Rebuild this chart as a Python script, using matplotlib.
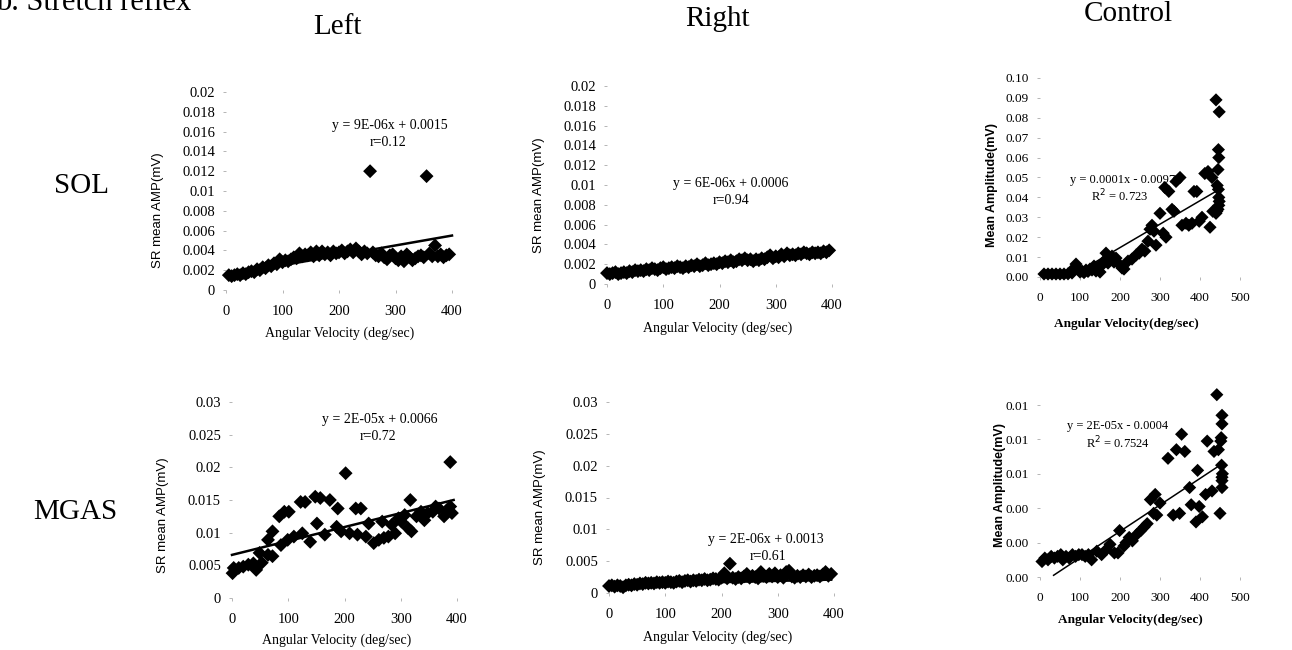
import matplotlib
matplotlib.use("Agg")
import matplotlib.pyplot as plt

# ---------------- data ----------------
left_sol_x = [5, 10, 15, 20, 25, 30, 35, 40, 45, 50, 55, 60, 65, 70, 75, 80, 85, 90, 95, 100,
              105, 110, 115, 120, 125, 130, 135, 140, 145, 150, 155, 160, 165, 170, 175, 180, 185, 190, 195, 200,
              205, 210, 215, 220, 225, 230, 235, 240, 245, 250, 255, 260, 265, 270, 275, 280, 285, 290, 295, 300,
              305, 310, 315, 320, 325, 330, 335, 340, 345, 350, 355, 360, 365, 370, 375, 380, 385, 390, 395]
left_sol_y = [0.0015, 0.0014, 0.0015, 0.0016, 0.0015, 0.0017, 0.0016, 0.0018, 0.0019, 0.0018,
              0.0021, 0.0020, 0.0023, 0.0022, 0.0025, 0.0024, 0.0027, 0.0026, 0.0031, 0.0028,
              0.0030, 0.0029, 0.0031, 0.0033, 0.0032, 0.0037, 0.0034, 0.0036, 0.0035, 0.0038,
              0.0034, 0.0039, 0.0035, 0.0039, 0.0036, 0.0038, 0.0035, 0.0039, 0.0037, 0.0038,
              0.0040, 0.0037, 0.0039, 0.0041, 0.0038, 0.0042, 0.0039, 0.0036, 0.0039, 0.0037,
              0.0120, 0.0038, 0.0035, 0.0034, 0.0037, 0.0033, 0.0031, 0.0035, 0.0036, 0.0032,
              0.0030, 0.0034, 0.0029, 0.0036, 0.0033, 0.0030, 0.0032, 0.0034, 0.0035, 0.0033,
              0.0115, 0.0037, 0.0034, 0.0045, 0.0034, 0.0036, 0.0033, 0.0035, 0.0036]
left_sol_fit_x = [0, 400]
left_sol_fit_y = [0.0015, 0.0055]

right_sol_x = [0, 5, 10, 15, 20, 25, 30, 35, 40, 45, 50, 55, 60, 65, 70, 75, 80, 85, 90, 95,
               100, 105, 110, 115, 120, 125, 130, 135, 140, 145, 150, 155, 160, 165, 170, 175, 180, 185, 190, 195,
               200, 205, 210, 215, 220, 225, 230, 235, 240, 245, 250, 255, 260, 265, 270, 275, 280, 285, 290, 295,
               300, 305, 310, 315, 320, 325, 330, 335, 340, 345, 350, 355, 360, 365, 370, 375, 380, 385, 390, 395]
right_sol_y = [0.0011, 0.0010, 0.0011, 0.0012, 0.0010, 0.0011, 0.0012, 0.0011, 0.0013, 0.0012,
               0.0014, 0.0013, 0.0014, 0.0013, 0.0015, 0.0014, 0.0016, 0.0015, 0.0014, 0.0016,
               0.0017, 0.0015, 0.0016, 0.0017, 0.0016, 0.0018, 0.0017, 0.0016, 0.0018, 0.0017,
               0.0019, 0.0018, 0.0020, 0.0018, 0.0019, 0.0021, 0.0019, 0.0020, 0.0021, 0.0020,
               0.0022, 0.0021, 0.0023, 0.0022, 0.0024, 0.0022, 0.0023, 0.0025, 0.0024, 0.0026,
               0.0024, 0.0025, 0.0023, 0.0025, 0.0024, 0.0026, 0.0025, 0.0027, 0.0029, 0.0026,
               0.0028, 0.0027, 0.0030, 0.0028, 0.0031, 0.0029, 0.0030, 0.0029, 0.0031, 0.0030,
               0.0032, 0.0031, 0.0030, 0.0032, 0.0031, 0.0032, 0.0031, 0.0033, 0.0032, 0.0034]
right_sol_fit_x = [0, 395]
right_sol_fit_y = [0.0009, 0.0033]

control_sol_x = [10, 20, 30, 40, 50, 60, 70, 80, 85, 90, 95, 100, 105, 110, 115, 120, 125, 130, 135, 140,
                 145, 150, 155, 160, 165, 170, 175, 180, 185, 190, 200, 205, 210, 220, 230, 240, 248, 255, 262, 270,
                 275, 280, 285, 290, 300, 308, 315, 312, 322, 330, 335, 340, 350, 355, 365, 372, 380, 385, 392, 398,
                 405, 412, 420, 425, 430, 432, 440, 448, 446, 447, 445, 443, 446, 447, 448, 447, 445, 442, 440]
control_sol_y = [0.0015, 0.0015, 0.0015, 0.0015, 0.0015, 0.0015, 0.0016, 0.0020, 0.0045, 0.0065,
                 0.0040, 0.0025, 0.0030, 0.0022, 0.0035, 0.0028, 0.0040, 0.0035, 0.0055, 0.0030,
                 0.0050, 0.0025, 0.0060, 0.0080, 0.0120, 0.0070, 0.0090, 0.0105, 0.0075, 0.0095,
                 0.0060, 0.0045, 0.0040, 0.0080, 0.0090, 0.0110, 0.0120, 0.0140, 0.0130, 0.0180,
                 0.0240, 0.0260, 0.0230, 0.0160, 0.0320, 0.0220, 0.0200, 0.0450, 0.0430, 0.0340,
                 0.0330, 0.0480, 0.0500, 0.0260, 0.0270, 0.0260, 0.0270, 0.0430, 0.0430, 0.0280,
                 0.0300, 0.0520, 0.0530, 0.0250, 0.0500, 0.0330, 0.0890, 0.0830, 0.0640, 0.0600,
                 0.0540, 0.0460, 0.0440, 0.0400, 0.0380, 0.0360, 0.0340, 0.0330, 0.0320]
control_sol_fit_x = [100, 448]
control_sol_fit_y = [0.0030, 0.0440]

left_mgas_x = [1, 3, 12, 20, 29, 38, 43, 49, 53, 64, 72, 64, 72, 84, 93, 101, 87, 99, 110, 122,
               130, 125, 139, 148, 157, 151, 165, 174, 188, 186, 194, 202, 209, 220, 229, 223, 238, 243, 252, 261,
               267, 270, 278, 284, 290, 296, 301, 307, 313, 319, 317, 328, 336, 342, 348, 357, 362, 368, 377, 383,
               388, 388, 391]
left_mgas_y = [0.0038, 0.0046, 0.0046, 0.0048, 0.0051, 0.0053, 0.0043, 0.0069, 0.0054, 0.0066,
               0.0064, 0.0089, 0.0102, 0.0125, 0.0132, 0.0132, 0.0081, 0.0089, 0.0094, 0.0147,
               0.0147, 0.0099, 0.0086, 0.0155, 0.0153, 0.0114, 0.0097, 0.0150, 0.0137, 0.0109,
               0.0102, 0.0191, 0.0099, 0.0137, 0.0137, 0.0097, 0.0094, 0.0114, 0.0084, 0.0089,
               0.0117, 0.0092, 0.0094, 0.0112, 0.0099, 0.0122, 0.0117, 0.0127, 0.0107, 0.0102,
               0.0150, 0.0125, 0.0132, 0.0119, 0.0130, 0.0132, 0.0140, 0.0137, 0.0125, 0.0132,
               0.0208, 0.0140, 0.0130]
left_mgas_fit_x = [0, 394]
left_mgas_fit_y = [0.0066, 0.0150]

right_mgas_x = [0, 5, 10, 15, 20, 25, 30, 35, 40, 45, 50, 55, 60, 65, 70, 75, 80, 85, 90, 95,
                100, 105, 110, 115, 120, 125, 130, 135, 140, 145, 150, 155, 160, 165, 170, 175, 180, 185, 190, 195,
                200, 205, 210, 215, 220, 225, 230, 235, 240, 245, 250, 255, 260, 265, 270, 275, 280, 285, 290, 295,
                300, 305, 310, 315, 320, 325, 330, 335, 340, 345, 350, 355, 360, 365, 370, 375, 380, 385, 390, 395]
right_mgas_y = [0.0011, 0.0012, 0.0010, 0.0012, 0.0011, 0.0009, 0.0012, 0.0013, 0.0012, 0.0014,
                0.0013, 0.0015, 0.0014, 0.0016, 0.0015, 0.0016, 0.0015, 0.0017, 0.0016, 0.0017,
                0.0016, 0.0018, 0.0017, 0.0016, 0.0018, 0.0019, 0.0017, 0.0019, 0.0020, 0.0018,
                0.0020, 0.0019, 0.0021, 0.0020, 0.0022, 0.0020, 0.0021, 0.0023, 0.0022, 0.0021,
                0.0024, 0.0031, 0.0023, 0.0046, 0.0024, 0.0022, 0.0025, 0.0023, 0.0026, 0.0030,
                0.0024, 0.0027, 0.0025, 0.0023, 0.0033, 0.0027, 0.0025, 0.0030, 0.0026, 0.0031,
                0.0025, 0.0028, 0.0024, 0.0033, 0.0035, 0.0026, 0.0024, 0.0027, 0.0025, 0.0028,
                0.0026, 0.0029, 0.0025, 0.0027, 0.0028, 0.0026, 0.0029, 0.0033, 0.0027, 0.0030]
right_mgas_fit_x = [0, 395]
right_mgas_fit_y = [0.0013, 0.0021]

control_mgas_x = [5, 12, 20, 28, 36, 44, 52, 57, 65, 73, 81, 89, 97, 105, 113, 121, 129, 142, 154, 166,
                  175, 186, 195, 199, 210, 215, 223, 231, 243, 252, 260, 268, 276, 288, 284, 292, 300, 320, 333, 341,
                  349, 354, 362, 374, 378, 390, 394, 398, 406, 414, 418, 430, 435, 442, 446, 450, 452, 453, 454, 455,
                  455, 455, 455, 455, 456]
control_mgas_y = [0.0009, 0.0011, 0.0010, 0.0012, 0.0011, 0.0012, 0.0013, 0.0010, 0.0012, 0.0011,
                  0.0013, 0.0012, 0.0013, 0.0013, 0.0012, 0.0013, 0.0010, 0.0015, 0.0013, 0.0016,
                  0.0019, 0.0014, 0.0014, 0.0027, 0.0018, 0.0020, 0.0023, 0.0021, 0.0025, 0.0027,
                  0.0029, 0.0031, 0.0045, 0.0048, 0.0037, 0.0036, 0.0043, 0.0069, 0.0036, 0.0074,
                  0.0037, 0.0083, 0.0073, 0.0052, 0.0042, 0.0032, 0.0062, 0.0041, 0.0035, 0.0048,
                  0.0079, 0.0050, 0.0073, 0.0106, 0.0074, 0.0037, 0.0079, 0.0081, 0.0065, 0.0094,
                  0.0089, 0.0056, 0.0052, 0.0058, 0.0060]
control_mgas_fit_x = [34, 450]
control_mgas_fit_y = [0.0001, 0.0065]

lr_xticks = [0, 100, 200, 300, 400]
ctrl_xticks = [0, 100, 200, 300, 400, 500]
sol_lr_yticks = [0, 0.002, 0.004, 0.006, 0.008, 0.01, 0.012, 0.014, 0.016, 0.018, 0.02]
sol_lr_ylabels = ["0", "0.002", "0.004", "0.006", "0.008", "0.01", "0.012", "0.014", "0.016", "0.018", "0.02"]
mgas_lr_yticks = [0, 0.005, 0.01, 0.015, 0.02, 0.025, 0.03]
mgas_lr_ylabels = ["0", "0.005", "0.01", "0.015", "0.02", "0.025", "0.03"]
sol_ctrl_yticks = [0, 0.01, 0.02, 0.03, 0.04, 0.05, 0.06, 0.07, 0.08, 0.09, 0.10]
sol_ctrl_ylabels = ["0.00", "0.01", "0.02", "0.03", "0.04", "0.05", "0.06", "0.07", "0.08", "0.09", "0.10"]
mgas_ctrl_yticks = [0, 0.002, 0.004, 0.006, 0.008, 0.010]
mgas_ctrl_ylabels = ["0.00", "0.00", "0.00", "0.01", "0.01", "0.01"]

# ---------------- figure ----------------
W, H = 1292, 650
fig = plt.figure(figsize=(W / 100, H / 100), dpi=100)
SERIF = ["Liberation Serif", "DejaVu Serif"]
SANS = ["Liberation Sans", "DejaVu Sans"]


def ftxt(x, y, s, size, family=SERIF, weight="normal", ha="center", va="center", rot=0):
    fig.text(x / W, 1 - y / H, s, fontsize=size, family=family, weight=weight,
             ha=ha, va=va, rotation=rot, color="black")


def panel(box, xlim, ylim, xs, ys, fx, fy, xt, yt, ytl, lw, ms, tsize):
    x0, x1, yt_px, yb_px = box
    ax = fig.add_axes([x0 / W, 1 - yb_px / H, (x1 - x0) / W, (yb_px - yt_px) / H])
    ax.set_xlim(*xlim)
    ax.set_ylim(*ylim)
    for s in ax.spines.values():
        s.set_visible(False)
    ax.set_xticks(xt)
    ax.set_xticklabels([str(v) for v in xt], family=SERIF, fontsize=tsize)
    ax.set_yticks(yt)
    ax.set_yticklabels(ytl, family=SERIF, fontsize=tsize)
    ax.tick_params(axis="both", direction="out", length=2, width=0.6, color="#aaaaaa")
    ax.tick_params(axis="y", pad=6)
    ax.tick_params(axis="x", pad=9)
    ax.patch.set_alpha(0)
    ax.plot(fx, fy, color="black", lw=lw, clip_on=False, zorder=2)
    ax.scatter(xs, ys, marker="D", s=ms, color="black", edgecolors="none", clip_on=False, zorder=3)
    return ax


# Row titles / column titles
ftxt(-4, 2, "b. Stretch reflex", 22, ha="left")
ftxt(337, 27, "Left", 21)
ftxt(717, 19, "Right", 21)
ftxt(1128, 14, "Control", 21)
ftxt(82, 186, "SOL", 21)
ftxt(75, 512, "MGAS", 21)

# Left SOL
panel((226, 452, 92, 290), (0, 400), (0, 0.02), left_sol_x, left_sol_y,
      left_sol_fit_x, left_sol_fit_y, lr_xticks, sol_lr_yticks, sol_lr_ylabels, 1.8, 50, 10.5)
ftxt(390, 125, "y = 9E-06x + 0.0015", 10)
ftxt(388, 142, "r=0.12", 10)
ftxt(158, 210, "SR mean AMP(mV)", 9.5, family=SANS, rot=90)
ftxt(340, 333, "Angular Velocity (deg/sec)", 10)

# Right SOL
panel((607, 832, 86, 284), (0, 400), (0, 0.02), right_sol_x, right_sol_y,
      right_sol_fit_x, right_sol_fit_y, lr_xticks, sol_lr_yticks, sol_lr_ylabels, 1.8, 50, 10.5)
ftxt(731, 184, "y = 6E-06x + 0.0006", 10)
ftxt(731, 200, "r=0.94", 10)
ftxt(539, 195, "SR mean AMP(mV)", 9.5, family=SANS, rot=90)
ftxt(718, 328, "Angular Velocity (deg/sec)", 10)

# Control SOL
panel((1040, 1240, 78, 277), (0, 500), (0, 0.10), control_sol_x, control_sol_y,
      control_sol_fit_x, control_sol_fit_y, ctrl_xticks, sol_ctrl_yticks, sol_ctrl_ylabels, 1.1, 45, 9.5)
ftxt(1123, 180, "y = 0.0001x - 0.0097", 9)
ftxt(1120, 196, "R$^2$ = 0.723", 9)
ftxt(992, 185, "Mean Amplitude(mV)", 9, family=SANS, weight="bold", rot=90)
ftxt(1126, 324, "Angular Velocity(deg/sec)", 9.5, weight="bold")

# Left MGAS
panel((232, 457, 402, 598), (0, 400), (0, 0.03), left_mgas_x, left_mgas_y,
      left_mgas_fit_x, left_mgas_fit_y, lr_xticks, mgas_lr_yticks, mgas_lr_ylabels, 1.8, 50, 10.5)
ftxt(380, 420, "y = 2E-05x + 0.0066", 10)
ftxt(378, 437, "r=0.72", 10)
ftxt(163, 515, "SR mean AMP(mV)", 9.5, family=SANS, rot=90)
ftxt(337, 640, "Angular Velocity (deg/sec)", 10)

# Right MGAS
panel((609, 834, 402, 593), (0, 400), (0, 0.03), right_mgas_x, right_mgas_y,
      right_mgas_fit_x, right_mgas_fit_y, lr_xticks, mgas_lr_yticks, mgas_lr_ylabels, 1.8, 50, 10.5)
ftxt(766, 540, "y = 2E-06x + 0.0013", 10)
ftxt(768, 557, "r=0.61", 10)
ftxt(540, 507, "SR mean AMP(mV)", 9.5, family=SANS, rot=90)
ftxt(718, 637, "Angular Velocity (deg/sec)", 10)

# Control MGAS
panel((1040, 1240, 405, 577), (0, 500), (0, 0.010), control_mgas_x, control_mgas_y,
      control_mgas_fit_x, control_mgas_fit_y, ctrl_xticks, mgas_ctrl_yticks, mgas_ctrl_ylabels, 1.1, 45, 9.5)
ftxt(1118, 426, "y = 2E-05x - 0.0004", 9)
ftxt(1118, 443, "R$^2$ = 0.7524", 9)
ftxt(1000, 485, "Mean Amplitude(mV)", 9, family=SANS, weight="bold", rot=90)
ftxt(1130, 620, "Angular Velocity(deg/sec)", 9.5, weight="bold")

fig.savefig("out.png", dpi=100, facecolor="white")
